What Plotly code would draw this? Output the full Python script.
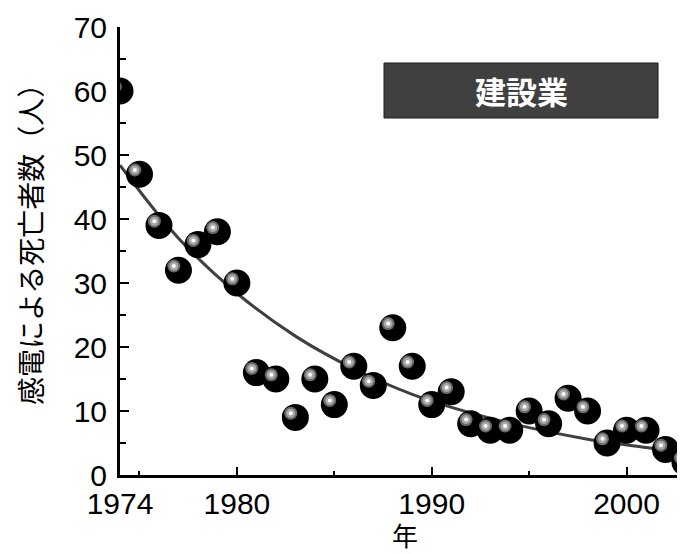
import plotly.graph_objects as go

# ---- data ----
years = list(range(1974, 2004))
deaths = [60, 47, 39, 32, 36, 38, 30, 16, 15, 9,
          15, 11, 17, 14, 23, 17, 11, 13, 8, 7,
          7, 10, 8, 12, 10, 5, 7, 7, 4, 2]

# fitted trend curve
fit_years = [1974, 1977, 1980, 1983, 1986, 1989, 1992, 1995, 1998, 2001, 2003]
fit_values = [48.4, 37.0, 28.4, 21.7, 16.6, 12.6, 9.7, 7.4, 5.6, 4.3, 3.5]

x_tick_vals = [1974, 1980, 1990, 2000]
x_tick_text = ["1974", "1980", "1990", "2000"]
y_tick_vals = [0, 10, 20, 30, 40, 50, 60, 70]

legend_label = "建設業"
x_title = "年"
y_title = "感電による死亡者数（人）"

# ---- layout geometry (page body has an 8px margin) ----
OFF = 8
W, H = 685 - OFF, 554 - OFF
ML, MR, MT, MB = 112, 0, 19, 79
X_RANGE = [1974, 2003]
Y_RANGE = [0, 70]
plot_w = W - ML - MR
plot_h = H - MT - MB
px_per_year = plot_w / (X_RANGE[1] - X_RANGE[0])
px_per_unit = plot_h / (Y_RANGE[1] - Y_RANGE[0])


def px_x(px):  # page pixel -> paper x
    return (px - OFF - ML) / plot_w


def px_y(py):  # page pixel -> paper y
    return (OFF + MT + plot_h - py) / plot_h


# highlight offset (pixel style offset converted to data units)
hx = -4.6 / px_per_year
hy = 4.2 / px_per_unit

num_font = "Liberation Sans, Arial, sans-serif"
cjk_font = "Noto Sans CJK JP, Noto Sans CJK SC, sans-serif"

fig = go.Figure()

fig.add_trace(go.Scatter(
    x=fit_years, y=fit_values, mode="lines",
    line=dict(color="#404040", width=3, shape="spline", smoothing=1.0),
    hoverinfo="skip", showlegend=False))

fig.add_trace(go.Scatter(
    x=years, y=deaths, mode="markers",
    marker=dict(size=27, color="#000000", line=dict(color="#000000", width=0)),
    showlegend=False, cliponaxis=True))

hl_x = [v + hx for v in years]
hl_y = [v + hy for v in deaths]
for size, color in [(13, "#6a6a6a"), (9, "#a8a8a8"), (4, "#ffffff")]:
    fig.add_trace(go.Scatter(
        x=hl_x, y=hl_y, mode="markers",
        marker=dict(size=size, color=color, line=dict(width=0)),
        hoverinfo="skip", showlegend=False, cliponaxis=True))

fig.update_layout(
    width=W, height=H,
    margin=dict(l=ML, r=MR, t=MT, b=MB, pad=0),
    paper_bgcolor="white", plot_bgcolor="white",
    font=dict(family=num_font, size=30, color="black"),
    xaxis=dict(
        range=X_RANGE, showgrid=False, zeroline=False,
        showline=True, linecolor="black", linewidth=3,
        tickmode="array", tickvals=x_tick_vals, ticktext=x_tick_text,
        ticks="inside", ticklen=8, tickwidth=2, tickcolor="black",
        ticklabelstandoff=0,
        tickfont=dict(family=num_font, size=30, color="black"),
        minor=dict(ticks="inside", tick0=1975, dtick=5, ticklen=4,
                   tickwidth=2, tickcolor="black", showgrid=False),
    ),
    yaxis=dict(
        range=Y_RANGE, showgrid=False, zeroline=False,
        showline=True, linecolor="black", linewidth=3,
        tickmode="array", tickvals=y_tick_vals,
        ticks="inside", ticklen=9, tickwidth=2, tickcolor="black",
        ticklabelstandoff=4,
        tickfont=dict(family=num_font, size=30, color="black"),
        minor=dict(ticks="inside", tick0=5, dtick=10, ticklen=6,
                   tickwidth=2, tickcolor="black", showgrid=False),
    ),
    shapes=[dict(
        type="rect", xref="paper", yref="paper",
        x0=px_x(384), x1=px_x(658), y0=px_y(118), y1=px_y(63),
        fillcolor="#404040", line=dict(color="#1a1a1a", width=1), layer="above")],
    annotations=[
        dict(text="<b>" + legend_label + "</b>", xref="paper", yref="paper",
             x=px_x(521), y=px_y(90.5),
             xanchor="center", yanchor="middle", showarrow=False,
             font=dict(family=cjk_font, size=31, color="white")),
        dict(text=y_title, xref="paper", yref="paper", textangle=-90,
             x=px_x(30), y=px_y(238),
             xanchor="center", yanchor="middle", showarrow=False,
             font=dict(family=cjk_font, size=28, color="black")),
        dict(text=x_title, xref="paper", yref="paper",
             x=px_x(405), y=px_y(534),
             xanchor="center", yanchor="middle", showarrow=False,
             font=dict(family=cjk_font, size=26, color="black")),
    ],
)

fig.write_html("out.html")
